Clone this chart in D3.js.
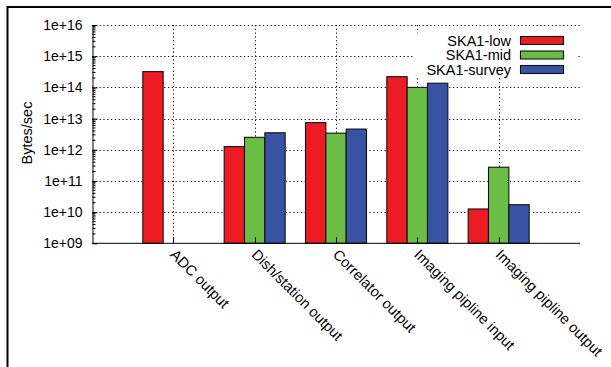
<!DOCTYPE html>
<html>
<head>
<meta charset="utf-8">
<script src="https://cdn.jsdelivr.net/npm/d3@7"></script>
<style>
  html, body { margin: 0; padding: 0; background: #fff; }
  svg { display: block; }
  text { font-family: "Liberation Sans", Arial, Helvetica, sans-serif; fill: #000; }
</style>
</head>
<body>
<svg id="chart" width="611" height="367"></svg>
<script>
// Data rates along the SKA1 processing chain (bytes per second, log scale)
const categories = ["ADC output", "Dish/station output", "Correlator output", "Imaging pipline input", "Imaging pipline output"];
const seriesNames = ["SKA1-low", "SKA1-mid", "SKA1-survey"];
const ska1Low    = [3.2e14, 1.26e12, 7.4e12, 2.2e14, 1.26e10];
const ska1Mid    = [null,   2.5e12,  3.4e12, 1.0e14, 2.75e11];
const ska1Survey = [null,   3.5e12,  4.6e12, 1.36e14, 1.73e10];
const yTickValues = [1e9, 1e10, 1e11, 1e12, 1e13, 1e14, 1e15, 1e16];
const yTickLabels = ["1e+09", "1e+10", "1e+11", "1e+12", "1e+13", "1e+14", "1e+15", "1e+16"];
const colors = ["#ed1c24", "#6abd45", "#3853a4"];

const series = [ska1Low, ska1Mid, ska1Survey];

const svg = d3.select("#chart");
const plot = { left: 92, right: 580, top: 25, bottom: 243.3 };

// Outer frame (top and left edges)
svg.append("line").attr("x1", 7).attr("x2", 611).attr("y1", 7).attr("y2", 7)
  .attr("stroke", "#000").attr("stroke-width", 2);
svg.append("line").attr("x1", 7.5).attr("x2", 7.5).attr("y1", 6).attr("y2", 367)
  .attr("stroke", "#000").attr("stroke-width", 2);

// Categories sit at integer positions 0..4 on a [-1, 5] axis
const x = d3.scaleLinear().domain([-1, categories.length]).range([plot.left, plot.right]);
const y = d3.scaleLog().domain([1e9, 1e16]).range([plot.bottom, plot.top]);
const barW = (x(1) - x(0)) / 4;

// Grid
const grid = svg.append("g").attr("stroke", "#000").attr("stroke-width", 1)
  .attr("stroke-dasharray", "1.2,2.6");
grid.selectAll("line.h").data(yTickValues.slice(1)).join("line")
  .attr("x1", plot.left).attr("x2", plot.right)
  .attr("y1", d => Math.round(y(d)) + 0.5).attr("y2", d => Math.round(y(d)) + 0.5);
grid.selectAll("line.v").data(categories).join("line")
  .attr("x1", (d, i) => Math.round(x(i)) + 0.5).attr("x2", (d, i) => Math.round(x(i)) + 0.5)
  .attr("y1", plot.top).attr("y2", plot.bottom);

// Bars
const barsG = svg.append("g");
series.forEach((vals, s) => {
  barsG.selectAll(null).data(vals.map((v, i) => ({ v, i })).filter(d => d.v != null)).join("rect")
    .attr("x", d => x(d.i) + (s - 1.5) * barW)
    .attr("width", barW)
    .attr("y", d => y(d.v))
    .attr("height", d => plot.bottom - y(d.v))
    .attr("fill", colors[s])
    .attr("stroke", "#111")
    .attr("stroke-width", 1.1);
});

// Y axis with minor ticks
const minor = [];
for (let e = 9; e < 16; e++) for (let m = 2; m <= 9; m++) minor.push(m * Math.pow(10, e));
const yAxis = d3.axisLeft(y).tickValues(yTickValues)
  .tickFormat((d, i) => yTickLabels[i]).tickSizeInner(-5).tickSizeOuter(0).tickPadding(10);
const yg = svg.append("g").attr("transform", `translate(${plot.left + 0.5},0)`).call(yAxis);
yg.selectAll("text").attr("font-size", 14).attr("font-family", "Liberation Sans, Arial, sans-serif");
yg.select(".domain").attr("stroke", "#000");
yg.selectAll("line.minor").data(minor).join("line").attr("class", "minor")
  .attr("x1", 0).attr("x2", 3).attr("y1", d => y(d)).attr("y2", d => y(d)).attr("stroke", "#000");

// X axis baseline and ticks
svg.append("line").attr("x1", plot.left).attr("x2", plot.right)
  .attr("y1", plot.bottom).attr("y2", plot.bottom).attr("stroke", "#000");
svg.selectAll("line.xt").data(categories).join("line").attr("class", "xt")
  .attr("x1", (d, i) => Math.round(x(i)) + 0.5).attr("x2", (d, i) => Math.round(x(i)) + 0.5)
  .attr("y1", plot.bottom).attr("y2", plot.bottom - 6).attr("stroke", "#000");

// Rotated category labels
svg.selectAll("text.cat").data(categories).join("text").attr("class", "cat")
  .attr("transform", (d, i) => `translate(${x(i) - 4},255.5) rotate(45)`)
  .attr("font-size", 14.7)
  .text(d => d);

// Y axis title
svg.append("text")
  .attr("transform", `translate(32,133) rotate(-90)`)
  .attr("text-anchor", "middle").attr("font-size", 14.5)
  .text("Bytes/sec");

// Legend
const lg = svg.append("g");
lg.append("rect").attr("x", 413).attr("y", 33).attr("width", 164).attr("height", 45).attr("fill", "#fff");
seriesNames.forEach((name, s) => {
  const cy = 40.5 + s * 14.5;
  lg.append("text").attr("x", 511).attr("y", cy + 5).attr("text-anchor", "end")
    .attr("font-size", 14.5).text(name);
  lg.append("rect").attr("x", 520.5).attr("y", cy - 4).attr("width", 43).attr("height", 8)
    .attr("fill", colors[s]).attr("stroke", "#111").attr("stroke-width", 1.1);
});
</script>
</body>
</html>
